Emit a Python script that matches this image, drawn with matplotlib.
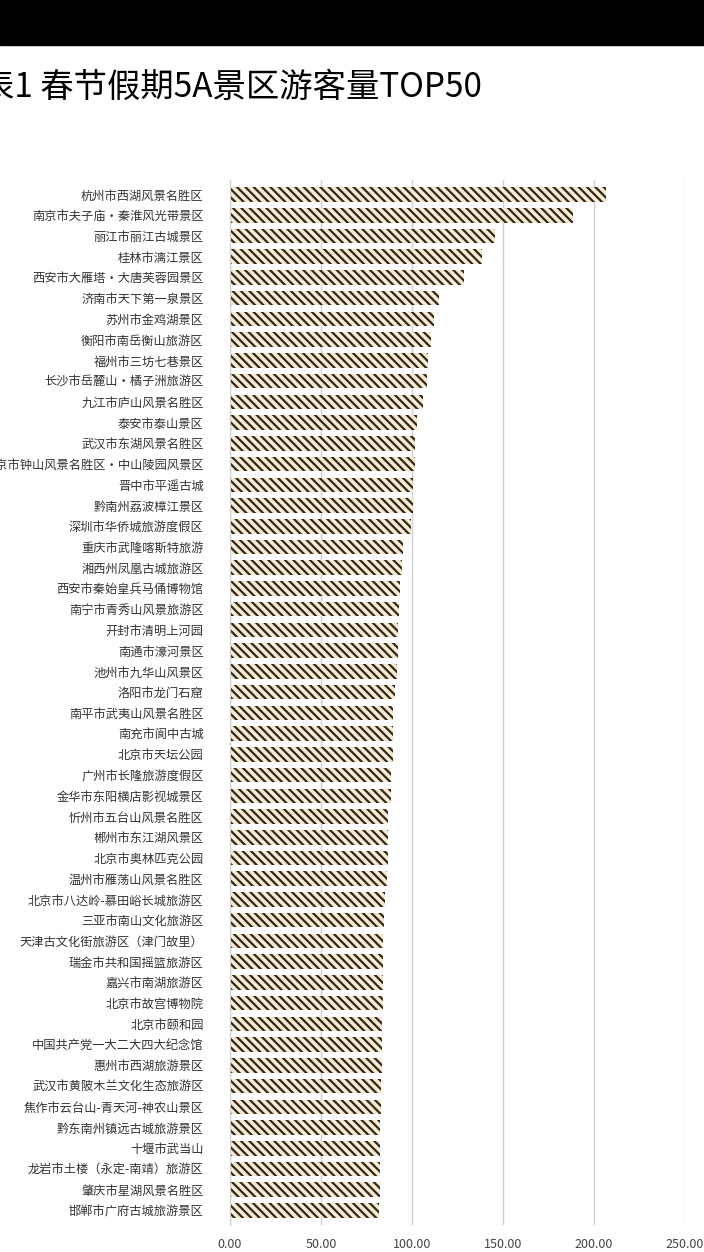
import matplotlib.pyplot as plt
from matplotlib.patches import Rectangle

plt.rcParams['font.family'] = ['Noto Sans CJK SC', 'DejaVu Sans']
plt.rcParams['hatch.linewidth'] = 1.6

# 景区名称（按游客量排序）
scenic = [
    "杭州市西湖风景名胜区", "南京市夫子庙·秦淮风光带景区", "丽江市丽江古城景区",
    "桂林市漓江景区", "西安市大雁塔·大唐芙蓉园景区", "济南市天下第一泉景区",
    "苏州市金鸡湖景区", "衡阳市南岳衡山旅游区", "福州市三坊七巷景区",
    "长沙市岳麓山·橘子洲旅游区", "九江市庐山风景名胜区", "泰安市泰山景区",
    "武汉市东湖风景名胜区", "南京市钟山风景名胜区·中山陵园风景区", "晋中市平遥古城",
    "黔南州荔波樟江景区", "深圳市华侨城旅游度假区", "重庆市武隆喀斯特旅游",
    "湘西州凤凰古城旅游区", "西安市秦始皇兵马俑博物馆", "南宁市青秀山风景旅游区",
    "开封市清明上河园", "南通市濠河景区", "池州市九华山风景区",
    "洛阳市龙门石窟", "南平市武夷山风景名胜区", "南充市阆中古城",
    "北京市天坛公园", "广州市长隆旅游度假区", "金华市东阳横店影视城景区",
    "忻州市五台山风景名胜区", "郴州市东江湖风景区", "北京市奥林匹克公园",
    "温州市雁荡山风景名胜区", "北京市八达岭-慕田峪长城旅游区", "三亚市南山文化旅游区",
    "天津古文化街旅游区（津门故里）", "瑞金市共和国摇篮旅游区", "嘉兴市南湖旅游区",
    "北京市故宫博物院", "北京市颐和园", "中国共产党一大二大四大纪念馆",
    "惠州市西湖旅游景区", "武汉市黄陂木兰文化生态旅游区", "焦作市云台山-青天河-神农山景区",
    "黔东南州镇远古城旅游景区", "十堰市武当山", "龙岩市土楼（永定-南靖）旅游区",
    "肇庆市星湖风景名胜区", "邯郸市广府古城旅游景区",
]

# 游客量（万人次，从图中估读）
visitors = [
    206.5, 188.4, 145.7, 138.6, 128.7, 114.8, 112.0, 110.3, 108.9, 108.5,
    105.8, 102.8, 101.5, 101.4, 100.6, 100.4, 99.7, 94.8, 94.7, 93.3,
    92.9, 92.4, 92.3, 92.0, 90.6, 89.6, 89.5, 89.3, 88.7, 88.4,
    86.9, 86.8, 86.6, 86.0, 85.1, 84.5, 84.2, 84.1, 84.0, 83.8,
    83.6, 83.5, 83.3, 83.2, 83.1, 82.5, 82.4, 82.3, 82.2, 82.1,
]

x_ticks = [0, 50, 100, 150, 200, 250]

fig = plt.figure(figsize=(7.04, 12.52), dpi=100)

# 顶部黑条
fig.patches.append(Rectangle((0, 1 - 45 / 1252), 1, 45 / 1252,
                             transform=fig.transFigure, color="black", zorder=0))

fig.text(-0.027, 1 - 97 / 1252, "表1 春节假期5A景区游客量TOP50",
         fontsize=24, color="black", va="baseline", ha="left")

ax = fig.add_axes([230 / 704, 1 - 1225 / 1252, 455 / 704, 1045 / 1252])

y = list(range(len(scenic)))
ax.barh(y, visitors, height=0.7, color="#f5ead2", edgecolor="#34271a",
        linewidth=0, hatch="\\\\\\\\", zorder=2)

ax.set_xlim(0, 250)
ax.set_ylim(len(scenic) - 0.3, -0.7)
ax.set_xticks(x_ticks)
ax.set_xticklabels([f"{t:.2f}" for t in x_ticks], fontsize=9, color="#444444")
ax.set_yticks(y)
ax.set_yticklabels(scenic, fontsize=8.8, color="#333333")
ax.tick_params(axis="both", length=0)
ax.tick_params(axis="y", pad=19)
ax.tick_params(axis="x", pad=9)

ax.grid(axis="x", color="#cfcfcf", linewidth=1.0, zorder=1)
for s in ["top", "right", "bottom"]:
    ax.spines[s].set_visible(False)
ax.spines["left"].set_color("#cfcfcf")

fig.savefig("out.png", dpi=100)
